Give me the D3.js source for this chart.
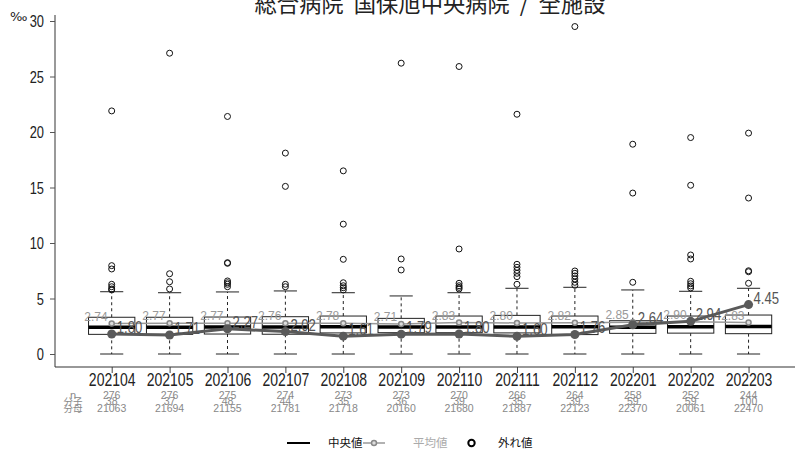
<!DOCTYPE html>
<html>
<head>
<meta charset="utf-8">
<script src="https://cdn.jsdelivr.net/npm/d3@7"></script>
<style>
  body { margin: 0; background: #fff; }
  svg { display: block; }
</style>
</head>
<body>
<svg id="chart" width="796" height="452"></svg>
<script>
// Monthly rate (‰) per facility: box plot over all facilities, mean trend and one hospital's trend
const months = ["202104","202105","202106","202107","202108","202109","202110","202111","202112","202201","202202","202203"];
const facilityCount = [276,276,275,274,273,273,270,266,264,258,252,244];
const numerators   = [38,37,48,44,35,36,39,35,39,59,59,100];
const denominators = [21063,21694,21155,21781,21718,20160,21680,21887,22123,22370,20061,22470];

const hospitalRate = [1.80,1.71,2.27,2.02,1.61,1.79,1.80,1.60,1.76,2.64,2.94,4.45];
const meanRate     = [2.74,2.77,2.77,2.76,2.78,2.71,2.83,2.80,2.82,2.85,2.90,2.83];

const whiskerLow  = [0,0,0,0,0,0,0,0,0,0,0,0];
const q1          = [1.77,1.77,1.80,1.78,1.90,1.92,1.92,1.90,1.75,1.86,1.88,1.83];
const medianRate  = [2.41,2.41,2.43,2.43,2.46,2.44,2.43,2.44,2.46,2.41,2.46,2.48];
const q3          = [3.31,3.31,3.33,3.36,3.42,3.21,3.42,3.48,3.42,3.00,3.42,3.51];
const whiskerHigh = [5.61,5.52,5.59,5.68,5.52,5.23,5.52,5.92,6.01,5.77,5.65,5.92];

const outliers = [
  [21.9, 7.96, 7.66, 6.28, 6.06, 5.86, 5.77],
  [27.1, 7.23, 6.51, 5.86],
  [21.4, 8.23, 8.17, 6.58, 6.42, 6.28, 6.06],
  [18.1, 15.1, 6.28, 6.06],
  [16.5, 11.7, 8.53, 6.42, 6.15, 5.97, 5.77],
  [26.2, 8.56, 7.57],
  [25.9, 9.46, 6.37, 6.15, 6.00, 5.86],
  [21.6, 8.08, 7.81, 7.54, 7.27, 6.97, 6.28],
  [29.5, 7.48, 7.27, 7.03, 6.76, 6.46, 6.19],
  [18.9, 14.5, 6.46],
  [19.5, 15.2, 8.92, 8.56, 6.55, 6.33, 6.13, 5.95],
  [19.9, 14.05, 7.50, 7.41, 6.37]
];

const yTicks = [0,5,10,15,20,25,30];
const tableLabels = ["n","分子","分母"];
const legendLabels = ["中央値","平均値","外れ値"];
const titleText = "総合病院  国保旭中央病院  /  全施設";

const SANS = "'Liberation Sans', Arial, sans-serif";
const CJK = "'Noto Sans CJK JP', 'Noto Sans', sans-serif";

const svg = d3.select("#chart");

const x = d3.scalePoint().domain(months).range([82.75, 777.5]).padding(0.5);
const y = d3.scaleLinear().domain([0, 30]).range([354, 21]);
const boxW = x.step() * 0.8;
const capW = boxW / 2;

const rows = months.map((m, i) => ({
  m, i,
  lo: whiskerLow[i], q1: q1[i], med: medianRate[i], q3: q3[i], hi: whiskerHigh[i],
  mean: meanRate[i], hosp: hospitalRate[i], out: outliers[i]
}));

// Squeeze a text horizontally around its anchor point (narrow numeric style)
function condense(sel, sx) {
  sel.each(function () {
    const t = d3.select(this);
    const tx = +t.attr("x") || 0, ty = +t.attr("y") || 0;
    t.attr("x", 0).attr("y", 0)
     .attr("transform", `translate(${tx},${ty}) scale(${sx},1)`);
  });
}

// Title
svg.append("text")
  .attr("x", 430).attr("y", 12)
  .attr("text-anchor", "middle")
  .attr("xml:space", "preserve")
  .style("white-space", "pre")
  .attr("font-family", CJK).attr("font-size", 22.3).attr("fill", "#222")
  .text(titleText);

// Y axis
const yAxis = svg.append("g")
  .attr("transform", "translate(55,0)")
  .call(d3.axisLeft(y).tickValues(yTicks).tickSize(5).tickPadding(6).tickSizeOuter(0));
yAxis.select(".domain").remove();
yAxis.selectAll(".tick line").attr("stroke", "#555");
yAxis.selectAll(".tick text")
  .attr("font-family", SANS).attr("font-size", 16.5).attr("fill", "#222")
  .attr("dy", "0.36em")
  .call(condense, 0.78);
svg.append("line")
  .attr("x1", 55).attr("x2", 55).attr("y1", 15).attr("y2", 367)
  .attr("stroke", "#555").attr("stroke-width", 1.2);

svg.append("text")
  .attr("x", 10).attr("y", 20.5)
  .attr("font-family", "'DejaVu Sans', sans-serif").attr("font-size", 13).attr("fill", "#222")
  .text("‰");

// X axis
const xAxis = svg.append("g")
  .attr("transform", "translate(0,367)")
  .call(d3.axisBottom(x).tickSize(6).tickSizeOuter(0));
xAxis.select(".domain").remove();
xAxis.selectAll(".tick line").attr("stroke", "#444");
xAxis.selectAll(".tick text")
  .attr("font-family", SANS).attr("font-size", 17.5).attr("fill", "#222")
  .attr("dy", null).attr("y", 18.5)
  .call(condense, 0.8);
svg.append("line")
  .attr("x1", 55).attr("x2", 795).attr("y1", 367).attr("y2", 367)
  .attr("stroke", "#333").attr("stroke-width", 1.2);

// Box plots
const box = svg.append("g").selectAll("g").data(rows).join("g")
  .attr("transform", d => `translate(${x(d.m)},0)`);

box.append("line")
  .attr("x1", 0).attr("x2", 0).attr("y1", d => y(d.q3)).attr("y2", d => y(d.hi))
  .attr("stroke", "#222").attr("stroke-dasharray", "3,3");
box.append("line")
  .attr("x1", 0).attr("x2", 0).attr("y1", d => y(d.q1)).attr("y2", d => y(d.lo))
  .attr("stroke", "#222").attr("stroke-dasharray", "3,3");
box.append("line")
  .attr("x1", -capW / 2).attr("x2", capW / 2).attr("y1", d => y(d.hi)).attr("y2", d => y(d.hi))
  .attr("stroke", "#222");
box.append("line")
  .attr("x1", -capW / 2).attr("x2", capW / 2).attr("y1", d => y(d.lo)).attr("y2", d => y(d.lo))
  .attr("stroke", "#222");
box.append("rect")
  .attr("x", -boxW / 2).attr("width", boxW)
  .attr("y", d => y(d.q3)).attr("height", d => y(d.q1) - y(d.q3))
  .attr("fill", "#fff").attr("stroke", "#222").attr("stroke-width", 1);
box.append("line")
  .attr("x1", -boxW / 2).attr("x2", boxW / 2).attr("y1", d => y(d.med)).attr("y2", d => y(d.med))
  .attr("stroke", "#000").attr("stroke-width", 3.5);
box.selectAll("circle.out").data(d => d.out).join("circle")
  .attr("class", "out")
  .attr("cx", 0).attr("cy", v => y(v)).attr("r", 3)
  .attr("fill", "none").attr("stroke", "#111").attr("stroke-width", 1);

// Mean trend across all facilities
const cx = d => x(d.m);
svg.append("path").datum(rows)
  .attr("d", d3.line().x(cx).y(d => y(d.mean)))
  .attr("fill", "none").attr("stroke", "#999").attr("stroke-width", 1.5);
svg.append("g").selectAll("circle").data(rows).join("circle")
  .attr("cx", cx).attr("cy", d => y(d.mean)).attr("r", 2.5)
  .attr("fill", "#ddd").attr("stroke", "#888").attr("stroke-width", 1.5);
svg.append("g").selectAll("text").data(rows).join("text")
  .attr("x", d => cx(d) - 4).attr("y", d => y(d.mean) - 3)
  .attr("text-anchor", "end")
  .attr("font-family", SANS).attr("font-size", 12).attr("fill", "#999")
  .text(d => d.mean.toFixed(2));

// Hospital trend
svg.append("path").datum(rows)
  .attr("d", d3.line().x(cx).y(d => y(d.hosp)))
  .attr("fill", "none").attr("stroke", "#5a5a5a").attr("stroke-width", 3);
svg.append("g").selectAll("circle").data(rows).join("circle")
  .attr("cx", cx).attr("cy", d => y(d.hosp)).attr("r", 4.5)
  .attr("fill", "#5a5a5a");
svg.append("g").selectAll("text").data(rows).join("text")
  .attr("x", d => cx(d) + 5).attr("y", d => y(d.hosp) - 1)
  .attr("font-family", SANS).attr("font-size", 16).attr("fill", "#555")
  .text(d => d.hosp.toFixed(2))
  .call(condense, 0.82);

// Count table under the axis
const tableRows = [facilityCount, numerators, denominators];
const rowY = [398.5, 405, 411.5];
tableRows.forEach((vals, r) => {
  svg.append("text")
    .attr("x", 73).attr("y", rowY[r]).attr("text-anchor", "middle")
    .attr("font-family", r === 0 ? SANS : CJK).attr("font-size", r === 0 ? 11 : 9.5)
    .attr("fill", "#888")
    .text(tableLabels[r]);
  svg.append("g").selectAll("text").data(vals).join("text")
    .attr("x", (v, i) => x(months[i])).attr("y", rowY[r])
    .attr("text-anchor", "middle")
    .attr("font-family", SANS).attr("font-size", 10.5).attr("fill", "#888")
    .text(v => v);
});

// Legend
const lg = svg.append("g").attr("transform", "translate(0,443)");
lg.append("line").attr("x1", 287).attr("x2", 310).attr("y1", 0).attr("y2", 0)
  .attr("stroke", "#000").attr("stroke-width", 2);
lg.append("text").attr("x", 328).attr("y", 4)
  .attr("font-family", CJK).attr("font-size", 11.5).attr("fill", "#111").text(legendLabels[0]);
lg.append("line").attr("x1", 363).attr("x2", 385).attr("y1", 0).attr("y2", 0)
  .attr("stroke", "#999").attr("stroke-width", 1.5);
lg.append("circle").attr("cx", 374).attr("cy", 0).attr("r", 2.5)
  .attr("fill", "#ddd").attr("stroke", "#888").attr("stroke-width", 1.5);
lg.append("text").attr("x", 413).attr("y", 4)
  .attr("font-family", CJK).attr("font-size", 11.5).attr("fill", "#aaa").text(legendLabels[1]);
lg.append("circle").attr("cx", 471.5).attr("cy", 0).attr("r", 3.2)
  .attr("fill", "none").attr("stroke", "#000").attr("stroke-width", 2);
lg.append("text").attr("x", 498).attr("y", 4)
  .attr("font-family", CJK).attr("font-size", 11.5).attr("fill", "#111").text(legendLabels[2]);
</script>
</body>
</html>
